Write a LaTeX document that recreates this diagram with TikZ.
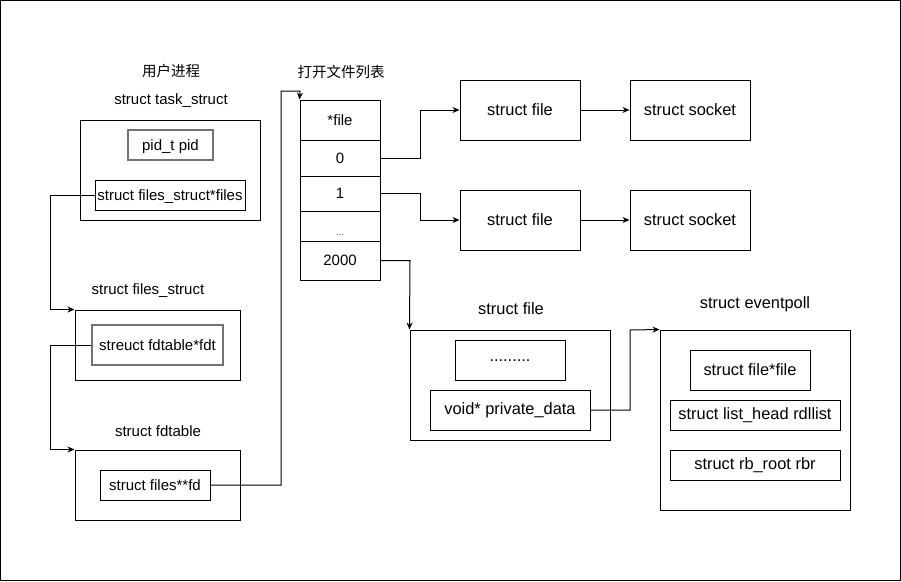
\documentclass[tikz,border=0pt]{standalone}
\usepackage{fontspec}
\setmainfont{Liberation Sans}
\newfontfamily\cjk{Noto Sans CJK SC}
\usetikzlibrary{arrows.meta}
\newcommand{\smallfs}{\fontsize{15}{17}\selectfont}
\newcommand{\largefs}{\fontsize{16.4}{19}\selectfont}
\begin{document}
\begin{tikzpicture}[x=1pt,y=-1pt,
  box/.style={draw, line width=1pt, inner sep=0pt, font=\smallfs, text height=1em, text depth=0pt},
  bigbox/.style={draw, line width=1pt, inner sep=0pt, font=\largefs},
  graybox/.style={draw=black!55, line width=1.4pt, inner sep=0pt, font=\smallfs, text height=1em, text depth=0pt},
  lbl/.style={inner sep=0pt, font=\smallfs},
  biglbl/.style={inner sep=0pt, font=\largefs},
  arr/.style={line width=1pt, -{Stealth[length=7pt,width=6pt]}},
  ln/.style={line width=1pt}]
\useasboundingbox (0,0) rectangle (901,581);
\draw[line width=1pt] (0.5,0.5) rectangle (900.5,580.5);

% labels
\node[lbl, font=\cjk\fontsize{14.5}{16}\selectfont] (t1) at (171,71) {用户进程};
\node[lbl, font=\cjk\fontsize{14.5}{16}\selectfont] (t2) at (341,72) {打开文件列表};
\node[lbl] (t3) at (171,101) {struct task\_struct};
\node[lbl] (t4) at (148,291) {struct files\_struct};
\node[lbl] (t5) at (158,431) {struct fdtable};
\node[biglbl] (t6) at (511,309) {struct file};
\node[biglbl] (t7) at (755,304) {struct eventpoll};

% task_struct
\node[box, minimum width=180, minimum height=100] (ts) at (170,170) {};
\node[graybox, minimum width=85, minimum height=30] (pid) at (170.5,145) {pid\_t pid};
\node[box, minimum width=150, minimum height=30] (fsp) at (170,195) {struct files\_struct*files};

% files_struct
\node[box, minimum width=165, minimum height=70] (fst) at (157.5,345) {};
\node[graybox, minimum width=131, minimum height=40] (fdt) at (157.5,345) {streuct fdtable*fdt};

% fdtable
\node[box, minimum width=165, minimum height=70] (fdtab) at (157.5,485) {};
\node[box, minimum width=110, minimum height=30] (fd) at (155,485) {struct files**fd};

% table
\node[box, minimum width=80, minimum height=40] (r0) at (340,120) {*file};
\node[box, minimum width=80, minimum height=36] (r1) at (340,158) {0};
\node[box, minimum width=80, minimum height=35] (r2) at (340,193.5) {1};
\node[box, minimum width=80, minimum height=30] (r3) at (340,226) {\raisebox{-4pt}{\color{black!70}\fontsize{10}{12}\selectfont ...}};
\node[box, minimum width=80, minimum height=39] (r4) at (340,260.5) {2000};

% files / sockets
\node[bigbox, minimum width=120, minimum height=60] (f1) at (520,110) {struct file};
\node[bigbox, minimum width=120, minimum height=60] (s1) at (690,110) {struct socket};
\node[bigbox, minimum width=120, minimum height=60] (f2) at (520,220) {struct file};
\node[bigbox, minimum width=120, minimum height=60] (s2) at (690,220) {struct socket};

% struct file (epoll)
\node[bigbox, minimum width=200, minimum height=110] (ef) at (510,385) {};
\node[bigbox, minimum width=110, minimum height=40] (dots) at (510,360) {\raisebox{-3pt}{.........}};
\node[bigbox, minimum width=160, minimum height=40] (pd) at (510,410) {void* private\_data};

% eventpoll
\node[bigbox, minimum width=190, minimum height=180] (ep) at (755,420) {};
\node[bigbox, minimum width=120, minimum height=40] (epf) at (750,370) {struct file*file};
\node[bigbox, minimum width=170, minimum height=30] (rdl) at (755,415) {struct list\_head rdllist};
\node[bigbox, minimum width=170, minimum height=30] (rbr) at (755,465) {struct rb\_root rbr};

% connectors
\draw[arr] (fsp.west) -- ++(-44,0) coordinate (c1) |- (fst.north west);
\draw[arr] (fdt.west) -- ++(-41,0) coordinate (c2) |- (fdtab.north west);
\coordinate (c3) at (281,485);
\coordinate (c4) at (281,91);
\coordinate (c5) at (300,91);
\draw[arr] (fd.east) -- (c3) -- (c4) -- (c5) -- (r0.north west);
\draw[arr] (r1.east) -- ++(40,0) coordinate (c6) |- (f1.west);
\draw[arr] (r2.east) -- ++(40,0) coordinate (c7) |- (f2.west);
\coordinate (c8) at (410,260.5);
\draw[arr] (r4.east) -- (c8) -- (ef.north west);
\draw[arr] (f1.east) -- (s1.west);
\draw[arr] (f2.east) -- (s2.west);
\coordinate (c9) at (630,410);
\coordinate (c10) at (630,330);
\draw[arr] (pd.east) -- (c9) -- (c10) -- (ep.north west);
\end{tikzpicture}
\end{document}
